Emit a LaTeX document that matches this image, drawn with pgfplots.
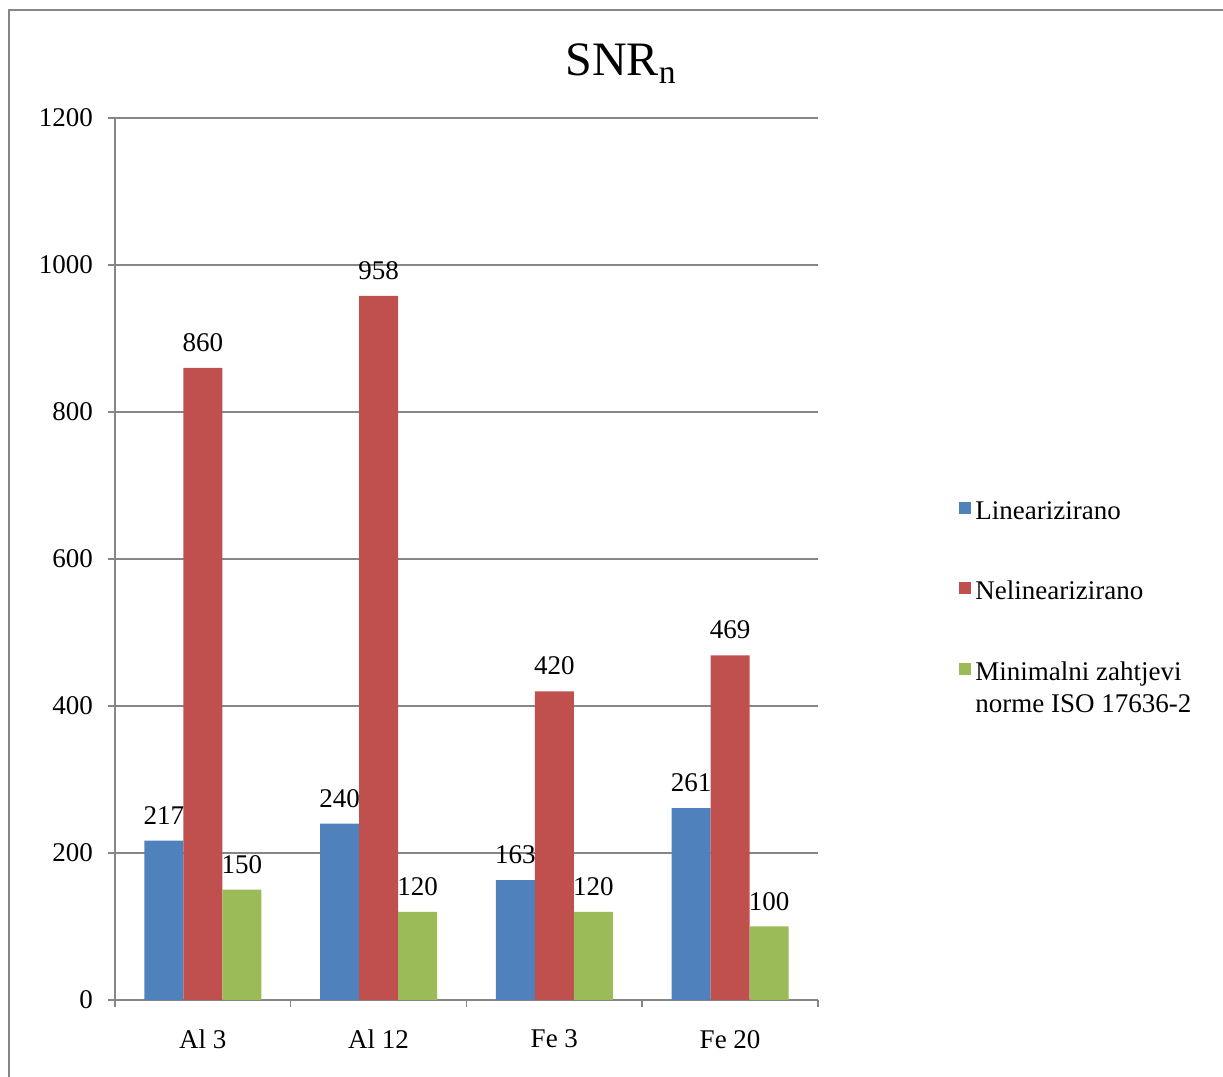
\documentclass[border=0pt]{standalone}
\usepackage{fontspec}
\setmainfont{Liberation Serif}
\usepackage{pgfplots}
\pgfplotsset{compat=1.18}
\definecolor{cblue}{HTML}{4F81BD}
\definecolor{cred}{HTML}{C0504D}
\definecolor{cgreen}{HTML}{9BBB59}
\definecolor{cgrid}{HTML}{868686}
\begin{document}
\begin{tikzpicture}
\useasboundingbox (0,0) rectangle (611.5pt,538.5pt);
\draw[cgrid, line width=1pt] (4.5pt,0) -- (4.5pt,533.5pt) -- (611.5pt,533.5pt);
\node[font=\fontsize{24pt}{28pt}\selectfont, anchor=base] at (310.5pt,500.5pt) {SNR\textsubscript{n}};
\begin{axis}[
  at={(57.5pt,38.5pt)}, anchor=south west,
  width=351.5pt, height=441pt, scale only axis,
  xmin=-0.5, xmax=3.5, ymin=0, ymax=1200,
  ybar=0pt, bar width=19.5pt,
  xtick={0,1,2,3}, xticklabels={Al 3, Al 12, Fe 3, Fe 20},
  major x tick style={draw=none},
  minor xtick={-0.5,0.5,1.5,2.5,3.5},
  ytick={0,200,...,1200},
  ymajorgrids, grid style={cgrid, line width=0.75pt},
  axis x line*=bottom, axis y line*=left,
  axis line style={cgrid, line width=0.75pt, -},
  tick align=outside,
  major tick length=3.5pt, minor tick length=3.5pt,
  tick style={cgrid, line width=0.75pt},
  /pgf/number format/assume math mode=true,
  /pgf/number format/1000 sep={},
  tick label style={font=\fontsize{13.5pt}{16pt}\selectfont, text=black},
  yticklabel style={xshift=-4pt},
  xticklabel style={yshift=-8pt},
  nodes near coords,
  nodes near coords style={font=\fontsize{13.5pt}{16pt}\selectfont, text=black, yshift=4.5pt},
  legend style={at={(1.192,0.575)}, anchor=north west, draw=none, fill=none,
    font=\fontsize{13.5pt}{16pt}\selectfont, row sep=25.5pt,
    cells={anchor=west}},
  legend image code/.code={\fill[#1] (0pt,-1pt) rectangle (6pt,5pt);},
]
\addplot[fill=cblue, draw=none] coordinates {(0,217) (1,240) (2,163) (3,261)};
\addlegendentry{Linearizirano}
\addplot[fill=cred, draw=none] coordinates {(0,860) (1,958) (2,420) (3,469)};
\addlegendentry{Nelinearizirano}
\addplot[fill=cgreen, draw=none] coordinates {(0,150) (1,120) (2,120) (3,100)};
\addlegendentry{\parbox[t]{120pt}{Minimalni zahtjevi\\norme ISO 17636-2}}
\end{axis}
\end{tikzpicture}
\end{document}
